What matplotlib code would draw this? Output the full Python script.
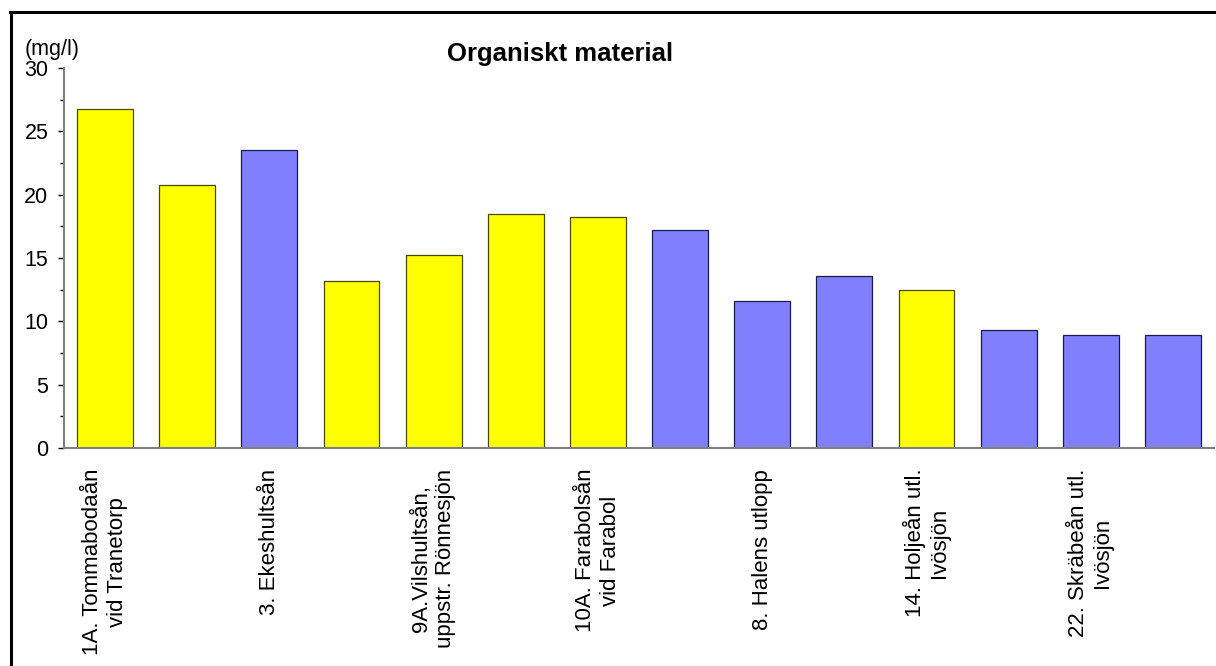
import matplotlib
matplotlib.use("Agg")
import matplotlib.pyplot as plt
from matplotlib.ticker import MultipleLocator
from matplotlib.lines import Line2D

plt.rcParams['font.family'] = ['Liberation Sans', 'DejaVu Sans']

# ---- data ----
labels = [
    "1A. Tommabodaån\nvid Tranetorp", "",
    "3. Ekeshultsån", "",
    "9A.Vilshultsån,\nuppstr. Rönnesjön", "",
    "10A. Farabolsån\nvid Farabol", "",
    "8. Halens utlopp", "",
    "14. Holjeån utl.\nIvösjön", "",
    "22. Skräbeån utl.\nIvösjön", "",
]
values = [26.8, 20.8, 23.5, 13.2, 15.2, 18.5, 18.2, 17.2, 11.6, 13.6, 12.5, 9.3, 8.9, 8.9]
groups = ["y", "y", "b", "y", "y", "y", "y", "b", "b", "b", "y", "b", "b", "b"]
title = "Organiskt material"
unit = "(mg/l)"

colors = {"y": "#FFFF00", "b": "#8080FF"}
edges = {"y": "#4a4a00", "b": "#1a1a4d"}

W, H = 1216, 666
fig = plt.figure(figsize=(W / 100, H / 100), dpi=100)
ax = fig.add_axes([64 / W, 1 - 448 / H, (1214 - 64) / W, (448 - 68) / H])

x = list(range(len(values)))
ax.bar(x, values, width=0.68,
       color=[colors[g] for g in groups],
       edgecolor=[edges[g] for g in groups], linewidth=0.9, zorder=2)

ax.set_xlim(-0.5, len(values) - 0.5)
ax.set_ylim(0, 30)
ax.yaxis.set_major_locator(MultipleLocator(5))
ax.yaxis.set_minor_locator(MultipleLocator(2.5))
ax.set_xticks(x)
ax.set_xticklabels(labels, rotation=90, ha="center", va="top",
                   multialignment="center", fontsize=16, linespacing=1.2)
ax.tick_params(axis="x", length=0, pad=15)
ax.tick_params(axis="y", which="major", length=4.3, width=1, color="black",
               labelsize=15.5, pad=7)
ax.tick_params(axis="y", which="minor", length=3, width=1, color="black")

for s in ["top", "right"]:
    ax.spines[s].set_visible(False)
for s in ["left", "bottom"]:
    ax.spines[s].set_color("#808080")
    ax.spines[s].set_linewidth(1.5)

fig.text(560 / W, 1 - 54 / H, title, ha="center", va="center",
         fontsize=18.5, fontweight="bold")
fig.text(25 / W, 1 - 50 / H, unit, ha="left", va="center", fontsize=15.5)

# outer frame
fig.add_artist(Line2D([11 / W, 11 / W], [0, 1 - 12 / H], color="black",
                      linewidth=2.2, transform=fig.transFigure))
fig.add_artist(Line2D([10 / W, 1], [1 - 12 / H, 1 - 12 / H], color="black",
                      linewidth=2.2, transform=fig.transFigure))

fig.savefig("out.png", dpi=100)
